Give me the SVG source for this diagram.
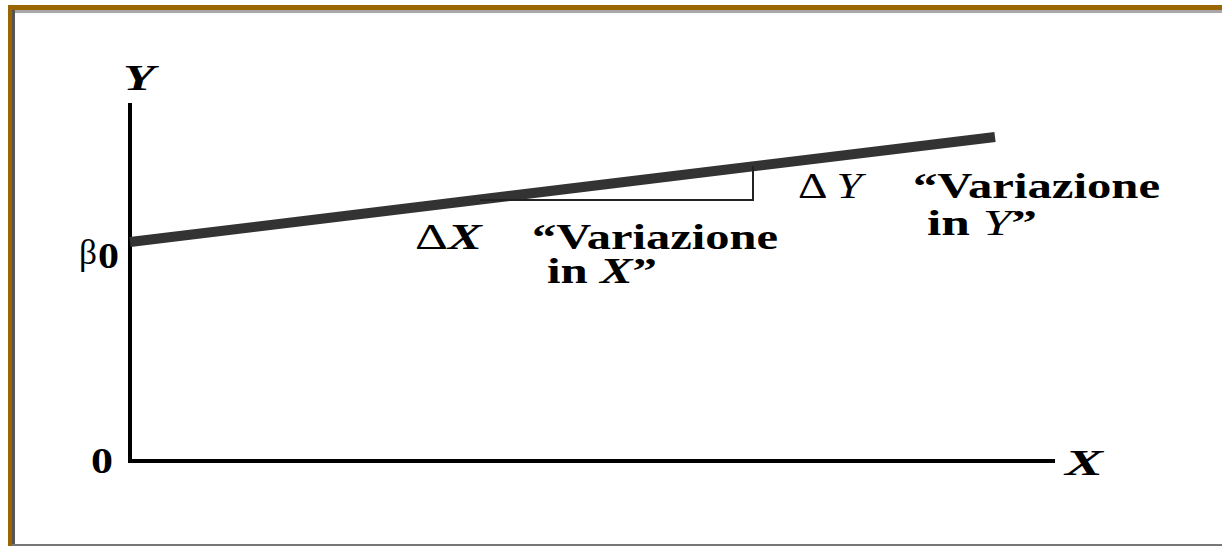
<svg xmlns="http://www.w3.org/2000/svg" width="1222" height="546" viewBox="0 0 1222 546">
<defs>
<style>
.t{font-family:"Liberation Serif","Times New Roman",serif;font-weight:bold;font-size:36px;fill:#000}
.i{font-style:italic}
.n{font-weight:normal}
.ax{stroke:#000;stroke-width:4;fill:none}
</style>
</defs>
<g id="frame">
<rect x="0" y="0" width="1222" height="546" fill="#fff"/>
<rect x="8" y="10" width="1214" height="3" fill="#a8a8a8"/>
<rect x="12" y="10" width="3" height="536" fill="#555"/>
<rect x="8" y="5" width="1214" height="5" fill="#9a6602"/>
<rect x="8" y="5" width="4" height="541" fill="#9a6602"/>
<rect x="12" y="544" width="1210" height="2" fill="#777"/>
</g>
<g id="axes">
<path class="ax" d="M130,103 V461 H1055"/>
</g>
<g id="connectors">
<line x1="130" y1="242" x2="995" y2="137" stroke="#333" stroke-width="10"/>
<path d="M480,200 H753 V166" fill="none" stroke="#222" stroke-width="2"/>
</g>
<g id="label-Y"><text class="t i" x="123" y="90" textLength="32" lengthAdjust="spacingAndGlyphs">Y</text></g>
<g id="label-X"><text class="t i" x="1065" y="475" textLength="38" lengthAdjust="spacingAndGlyphs">X</text></g>
<g id="label-0"><text class="t" x="91" y="473" textLength="22" lengthAdjust="spacingAndGlyphs">0</text></g>
<g id="label-beta0"><text class="t n" x="79" y="264" font-size="36" textLength="18" lengthAdjust="spacingAndGlyphs">β</text><text class="t" x="98" y="268" textLength="21" lengthAdjust="spacingAndGlyphs">0</text></g>
<g id="label-dX">
<text class="t" x="415" y="249" textLength="67" lengthAdjust="spacingAndGlyphs"><tspan class="n">Δ</tspan><tspan class="i">X</tspan></text>
<text class="t" x="532" y="249" textLength="246" lengthAdjust="spacingAndGlyphs">“Variazione</text>
<text class="t" x="547" y="283" textLength="110" lengthAdjust="spacingAndGlyphs">in <tspan class="i">X</tspan>”</text>
</g>
<g id="label-dY">
<text class="t" x="798" y="198" textLength="64" lengthAdjust="spacingAndGlyphs"><tspan class="n">Δ </tspan><tspan class="i n">Y</tspan></text>
<text class="t" x="913" y="198" textLength="247" lengthAdjust="spacingAndGlyphs">“Variazione</text>
<text class="t" x="927" y="235" textLength="110" lengthAdjust="spacingAndGlyphs">in <tspan class="i n">Y</tspan>”</text>
</g>
</svg>
